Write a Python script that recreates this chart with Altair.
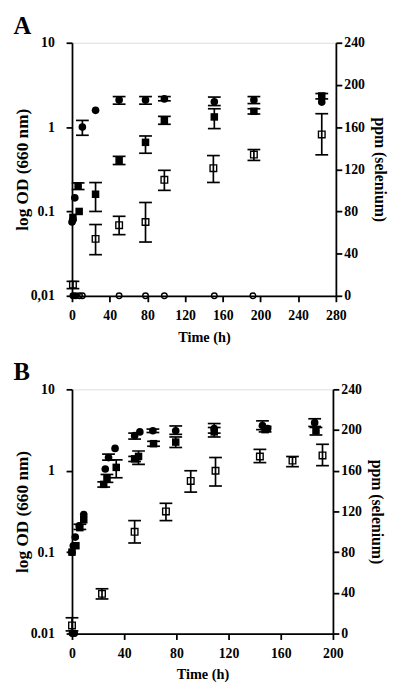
import altair as alt
import pandas as pd

FONT = "Liberation Serif"

# ---------------- Panel A ----------------
a_circ_t = [0, 1, 3, 11, 25, 50, 78, 98, 151, 193, 265]
a_circ_od = [0.075, 0.08, 0.145, 1.0, 1.58, 2.1, 2.1, 2.16, 2.0, 2.1, 1.98]
a_circ_err_t = [11, 50, 78, 98, 151, 193]
a_circ_err_lo = [0.8, 1.87, 1.87, 2.05, 1.8, 1.9]
a_circ_err_hi = [1.2, 2.3, 2.3, 2.3, 2.27, 2.3]

a_sq_t = [1, 6.5, 7.6, 25, 50, 78, 98, 151, 193, 265]
a_sq_od = [0.085, 0.2, 0.1, 0.16, 0.40, 0.66, 1.2, 1.32, 1.54, 2.34]
a_sq_err_t = [6.5, 25, 50, 78, 98, 151, 193, 265]
a_sq_err_lo = [0.182, 0.1, 0.36, 0.49, 1.08, 0.96, 1.43, 2.16]
a_sq_err_hi = [0.218, 0.22, 0.45, 0.785, 1.34, 1.65, 1.65, 2.5]

a_osq_t = [1, 25, 50, 78, 98, 150, 193, 265]
a_osq_ppm = [10.6, 54, 67, 70, 110, 121, 134, 153]
a_osq_lo = [6.8, 39, 58, 51, 100, 107.5, 128.4, 133.7]
a_osq_hi = [13.7, 67.6, 75.4, 88.5, 119, 133, 138.7, 172.7]

a_ocirc_t = [8, 11, 50, 78, 98, 151, 192]
a_ocirc_ppm = [0, 0, 0, 0, 0, 0, 0]
a_fcirc0_t = [1, 4]
a_fcirc0_ppm = [0, 0]

# ---------------- Panel B ----------------
b_circ_t = [0, 1, 2.5, 5.5, 9, 25.5, 28, 33, 48, 52, 62, 79.5, 109, 146, 150, 186]
b_circ_od = [0.1, 0.12, 0.153, 0.21, 0.29, 1.05, 1.45, 1.88, 2.7, 3.0, 3.1, 3.1, 3.3, 3.6, 3.3, 3.9]
b_circ_err_t = [28, 48, 62, 79.5, 109, 146, 186]
b_circ_err_lo = [1.35, 2.45, 2.95, 2.8, 2.9, 3.2, 3.5]
b_circ_err_hi = [1.6, 2.9, 3.25, 3.55, 3.8, 4.1, 4.35]

b_sq_t = [0, 3, 6, 9, 24.3, 26.8, 33.9, 48, 51, 62.5, 79.5, 109, 148, 187]
b_sq_od = [0.1, 0.12, 0.2, 0.25, 0.68, 0.8, 1.1, 1.4, 1.5, 2.15, 2.25, 3.0, 3.2, 3.1]
b_sq_err_t = [6, 24.3, 26.8, 33.9, 48, 51, 62.5, 79.5, 109, 148, 187]
b_sq_err_lo = [0.19, 0.63, 0.72, 0.82, 1.3, 1.2, 2.0, 1.93, 2.6, 3.0, 2.75]
b_sq_err_hi = [0.22, 0.73, 0.9, 1.36, 1.5, 1.75, 2.3, 2.6, 3.4, 3.5, 3.4]

b_osq_t = [0, 23, 48, 72, 91, 110, 144, 169, 192]
b_osq_ppm = [8, 39, 100, 120, 150, 160, 174, 170, 175]
b_osq_lo = [2.6, 34, 89, 111, 139, 145, 168, 164, 165]
b_osq_hi = [15.5, 44, 111, 128, 160, 173, 181, 174, 186]

b_ocirc_t = []
b_ocirc_ppm = []
b_fcirc0_t = [0, 2]
b_fcirc0_ppm = [0, 0]

# axis tick values / labels
od_ticks = [0.01, 0.1, 1, 10]
a_od_labels = ["0,01", "0.1", "1", "10"]
b_od_labels = ["0.01", "0.1", "1", "10"]
ppm_ticks = [0, 40, 80, 120, 160, 200, 240]
a_time_ticks = [0, 40, 80, 120, 160, 200, 240, 280]
b_time_ticks = [0, 40, 80, 120, 160, 200]

common = dict(
    labelFont=FONT, labelFontWeight="bold", labelFontSize=14, labelColor="black",
    titleFont=FONT, titleFontWeight="bold", titleColor="black",
    domainColor="black", domainWidth=1.8, tickColor="black", tickWidth=1.8,
    tickSize=6, grid=False,
)

LW = 1.7
CAP = 13


def label_expr(ticks, labels):
    expr = "''"
    for v, l in reversed(list(zip(ticks, labels))):
        expr = f"abs(datum.value - {v}) < {v}*0.01 ? '{l}' : ({expr})"
    return expr


def make_panel(letter, xmax, xticks, od_labels, w, h,
               circ, circ_err, sq, sq_err, osq, ocirc, fcirc0):
    xs = alt.Scale(domain=[0, xmax], nice=False)
    xa = alt.Axis(values=xticks, title="Time (h)", titleFontSize=14.5,
                  labelPadding=7, titlePadding=8, labelFlush=False, **common)
    ods = alt.Scale(type="log", domain=[0.01, 10], nice=False)
    oda = alt.Axis(values=od_ticks, labelExpr=label_expr(od_ticks, od_labels),
                   title="log OD (660 nm)", titleFontSize=17.5, labelPadding=12,
                   titlePadding=-1, labelOverlap=False, **common)
    pps = alt.Scale(domain=[0, 240], nice=False)
    ppa = alt.Axis(orient="right", values=ppm_ticks, title="ppm (selenium)",
                   titleFontSize=16, labelPadding=2, titlePadding=7, **common)

    X = alt.X("t:Q", scale=xs, axis=xa)

    def errs(df, scale, axis):
        rule = alt.Chart(df).mark_rule(color="black", strokeWidth=LW).encode(
            x=X, y=alt.Y("lo:Q", scale=scale, axis=axis), y2="hi:Q")
        lo = alt.Chart(df).mark_tick(orient="horizontal", color="black", size=CAP,
                                     thickness=LW, opacity=1).encode(
            x=X, y=alt.Y("lo:Q", scale=scale, axis=axis))
        hi = alt.Chart(df).mark_tick(orient="horizontal", color="black", size=CAP,
                                     thickness=LW, opacity=1).encode(
            x=X, y=alt.Y("hi:Q", scale=scale, axis=axis))
        return [rule, lo, hi]

    od_layers = []
    od_layers += errs(circ_err, ods, oda)
    od_layers += errs(sq_err, ods, oda)
    od_layers.append(alt.Chart(circ).mark_circle(size=60, color="black", opacity=1).encode(
        x=X, y=alt.Y("v:Q", scale=ods, axis=oda)))
    od_layers.append(alt.Chart(sq).mark_square(size=58, color="black", opacity=1).encode(
        x=X, y=alt.Y("v:Q", scale=ods, axis=oda)))

    ppm_layers = []
    ppm_layers += errs(osq, pps, ppa)
    ppm_layers.append(alt.Chart(osq).mark_point(shape="square", size=45, filled=False,
                                                color="black", strokeWidth=1.4, opacity=1).encode(
        x=X, y=alt.Y("v:Q", scale=pps, axis=ppa)))
    ppm_layers.append(alt.Chart(ocirc).mark_point(shape="circle", size=32, filled=False,
                                                  color="black", strokeWidth=1.4, opacity=1).encode(
        x=X, y=alt.Y("v:Q", scale=pps, axis=ppa)))
    ppm_layers.append(alt.Chart(fcirc0).mark_circle(size=50, color="black", opacity=1).encode(
        x=X, y=alt.Y("v:Q", scale=pps, axis=ppa)))

    left = alt.layer(*od_layers)
    right = alt.layer(*ppm_layers)
    return alt.layer(left, right).resolve_scale(y="independent").properties(
        width=w, height=h,
        title=alt.TitleParams(letter, anchor="start", frame="bounds", font=FONT,
                              fontSize=25, fontWeight="bold", color="black", offset=-3))


def pts(t, v):
    return pd.DataFrame({"t": pd.Series(t, dtype=float), "v": pd.Series(v, dtype=float)})


def err(t, lo, hi):
    return pd.DataFrame({"t": t, "lo": lo, "hi": hi})


def osq_df(t, v, lo, hi):
    return pd.DataFrame({"t": t, "v": v, "lo": lo, "hi": hi})


panel_a = make_panel(
    "A", 280, a_time_ticks, a_od_labels, 268, 257,
    pts(a_circ_t, a_circ_od), err(a_circ_err_t, a_circ_err_lo, a_circ_err_hi),
    pts(a_sq_t, a_sq_od), err(a_sq_err_t, a_sq_err_lo, a_sq_err_hi),
    osq_df(a_osq_t, a_osq_ppm, a_osq_lo, a_osq_hi),
    pts(a_ocirc_t, a_ocirc_ppm), pts(a_fcirc0_t, a_fcirc0_ppm))

panel_b = make_panel(
    "B", 200, b_time_ticks, b_od_labels, 265, 248,
    pts(b_circ_t, b_circ_od), err(b_circ_err_t, b_circ_err_lo, b_circ_err_hi),
    pts(b_sq_t, b_sq_od), err(b_sq_err_t, b_sq_err_lo, b_sq_err_hi),
    osq_df(b_osq_t, b_osq_ppm, b_osq_lo, b_osq_hi),
    pts(b_ocirc_t, b_ocirc_ppm), pts(b_fcirc0_t, b_fcirc0_ppm))

chart = alt.vconcat(panel_a, panel_b, spacing=16).properties(
    padding={"left": 5, "right": 5, "top": 0, "bottom": 0}
).configure_view(stroke=None).configure(background="white")

chart.save("out.html", embed_options={"renderer": "svg", "actions": False})
